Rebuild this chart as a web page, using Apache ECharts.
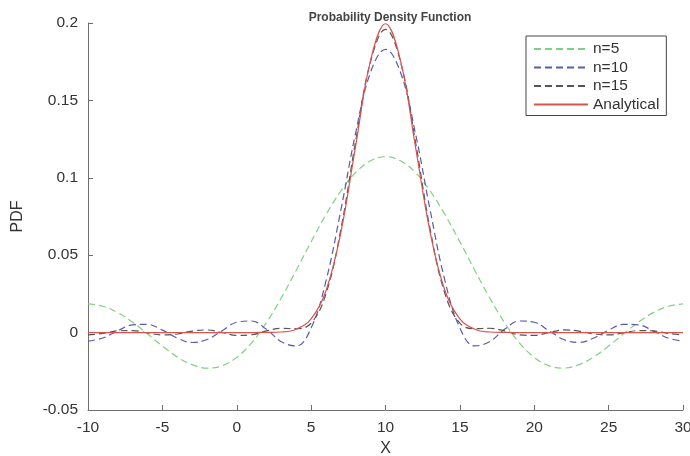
<!DOCTYPE html>
<html>
<head>
<meta charset="utf-8">
<script src="https://cdn.jsdelivr.net/npm/echarts@6/dist/echarts.min.js"></script>
<style>
  html, body { margin: 0; padding: 0; background: #fff; }
  #root { width: 690px; height: 456px; }
</style>
</head>
<body>
<div id="root"></div>
<script>
// x positions -10 .. 30, one per unit
const xs = [-10, -9, -8, -7, -6, -5, -4, -3, -2, -1, 0, 1, 2, 3, 4, 5, 6, 7, 8, 9, 10,
  11, 12, 13, 14, 15, 16, 17, 18, 19, 20, 21, 22, 23, 24, 25, 26, 27, 28, 29, 30]

const n5 = [0.0185, 0.0170, 0.0129, 0.0067, -0.0008, -0.0087, -0.0157, -0.0207, -0.0229, -0.0215,
  -0.0160, -0.0066, 0.0065, 0.0225, 0.0403, 0.0587, 0.0762, 0.0915, 0.1035, 0.1110, 0.1136,
  0.1110, 0.1035, 0.0915, 0.0762, 0.0587, 0.0403, 0.0225, 0.0065, -0.0066, -0.0160,
  -0.0215, -0.0229, -0.0207, -0.0157, -0.0087, -0.0008, 0.0067, 0.0129, 0.0170, 0.0185]

const n10 = [-0.0055, -0.0035, 0.0011, 0.0050, 0.0053, 0.0016, -0.0035, -0.0064, -0.0045, 0.0011,
  0.0067, 0.0075, 0.0021, -0.0059, -0.0086, 0.0030, 0.0334, 0.0792, 0.1293, 0.1683, 0.1830,
  0.1683, 0.1293, 0.0792, 0.0334, 0.0030, -0.0086, -0.0059, 0.0021, 0.0075, 0.0067,
  0.0011, -0.0045, -0.0064, -0.0035, 0.0016, 0.0053, 0.0050, 0.0011, -0.0035, -0.0055]

const n15 = [-0.0015, -0.0005, 0.0011, 0.0013, -0.0002, -0.0015, -0.0009, 0.0010, 0.0017, 0.0001,
  -0.0018, -0.0014, 0.0011, 0.0028, 0.0025, 0.0061, 0.0251, 0.0668, 0.1241, 0.1753, 0.1959,
  0.1753, 0.1241, 0.0668, 0.0251, 0.0061, 0.0025, 0.0028, 0.0011, -0.0014, -0.0018,
  0.0001, 0.0017, 0.0010, -0.0009, -0.0015, -0.0002, 0.0013, 0.0011, -0.0005, -0.0015]

const analytical = [0, 0, 0, 0, 0, 0, 0, 0, 0, 0,
  0, 0, 0.0001, 0.0004, 0.0022, 0.0088, 0.0270, 0.0648, 0.1210, 0.1760, 0.1995,
  0.1760, 0.1210, 0.0648, 0.0270, 0.0088, 0.0022, 0.0004, 0.0001, 0, 0,
  0, 0, 0, 0, 0, 0, 0, 0, 0, 0]

const pairs = ys => xs.map((x, i) => [x, ys[i]])

const font = 'Liberation Sans, Arial, sans-serif'
const axisGray = '#6f6f6f'
const dash = [7, 4]

function line (name, ys, color, type) {
  return {
    name: name,
    type: 'line',
    data: pairs(ys),
    smooth: 0.4,
    symbol: 'none',
    lineStyle: { color: color, width: 1.2, type: type },
    itemStyle: { color: color },
    z: name === 'Analytical' ? 3 : 2
  }
}

const chart = echarts.init(document.getElementById('root'), null, { renderer: 'canvas' })
chart.setOption({
  animation: false,
  backgroundColor: '#fff',
  title: {
    text: 'Probability Density Function',
    left: 385,
    textAlign: 'center',
    top: 7,
    textStyle: { fontFamily: font, fontSize: 12, fontWeight: 'bold', color: '#444' }
  },
  grid: { left: 88, right: 7, top: 23, bottom: 46, containLabel: false, outerBoundsMode: 'none' },
  legend: {
    orient: 'vertical',
    left: 526,
    top: 36,
    padding: [5, 7, 3, 7],
    itemGap: 2.5,
    itemWidth: 54,
    itemHeight: 14,
    borderColor: '#444',
    borderWidth: 1,
    borderRadius: 0,
    itemStyle: { opacity: 0 },
    textStyle: { fontFamily: font, fontSize: 15.5, lineHeight: 14, color: '#333' },
    data: ['n=5', 'n=10', 'n=15', 'Analytical']
  },
  xAxis: {
    type: 'value',
    min: -10,
    max: 30,
    interval: 5,
    name: 'X',
    nameLocation: 'middle',
    nameGap: 30,
    nameTextStyle: { fontFamily: font, fontSize: 16, color: '#333' },
    axisLine: { onZero: false, lineStyle: { color: axisGray, width: 1 } },
    axisTick: { inside: true, length: 5, lineStyle: { color: axisGray } },
    axisLabel: { fontFamily: font, fontSize: 15.5, color: '#333', margin: 10 },
    splitLine: { show: false }
  },
  yAxis: {
    type: 'value',
    min: -0.05,
    max: 0.2,
    interval: 0.05,
    name: 'PDF',
    nameLocation: 'middle',
    nameGap: 62,
    nameTextStyle: { fontFamily: font, fontSize: 16, color: '#333' },
    axisLine: { show: true, onZero: false, lineStyle: { color: axisGray, width: 1 } },
    axisTick: { show: true, inside: true, length: 5, lineStyle: { color: axisGray } },
    axisLabel: { fontFamily: font, fontSize: 15.5, color: '#333', margin: 10 },
    splitLine: { show: false }
  },
  series: [
    line('n=5', n5, '#7fd27f', dash),
    line('n=10', n10, '#5a5aae', dash),
    line('n=15', n15, '#555555', dash),
    line('Analytical', analytical, '#d9534f', 'solid')
  ]
})
</script>
</body>
</html>
